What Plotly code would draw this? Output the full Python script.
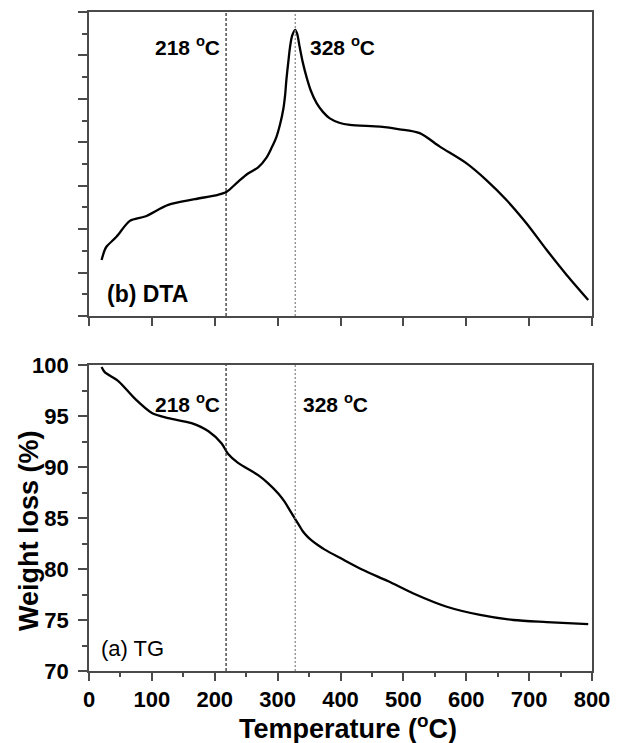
import plotly.graph_objects as go

# ---- data ----
dta_temp = [20, 25, 28, 44, 65, 89, 126, 168, 205, 219, 237, 253, 269, 282, 290, 298, 304, 309, 312, 314, 317, 319.6, 323, 328,
            331, 335, 340, 346, 353, 362, 372, 383, 398, 415, 463, 494, 526, 558, 600, 632, 664, 696, 728, 760, 794]
dta_signal = [1.29, 1.52, 1.60, 1.83, 2.19, 2.29, 2.56, 2.69, 2.79, 2.86, 3.09, 3.28, 3.42, 3.64, 3.86, 4.12, 4.42, 4.76, 5.10, 5.45, 5.85, 6.18, 6.45, 6.59,
              6.50, 6.20, 5.84, 5.50, 5.18, 4.90, 4.70, 4.55, 4.45, 4.40, 4.36, 4.30, 4.21, 3.90, 3.52, 3.13, 2.67, 2.13, 1.52, 0.94, 0.37]

tg_temp = [20, 25, 47, 73, 100, 126, 163, 190, 211, 221, 237, 269, 285, 301, 311, 319, 328, 334, 340, 347, 354, 365, 375, 402,
           436, 476, 516, 569, 622, 675, 728, 794]
tg_weight = [99.8, 99.3, 98.4, 96.7, 95.3, 94.8, 94.3, 93.5, 92.3, 91.3, 90.4, 89.2, 88.4, 87.4, 86.6, 85.8, 84.9, 84.3, 83.7, 83.2, 82.8, 82.3, 81.9, 81.0,
             79.9, 78.8, 77.6, 76.3, 75.5, 75.0, 74.8, 74.6]

marker_temps = [218, 328]
marker_labels = ["218 <sup>o</sup>C", "328 <sup>o</sup>C"]
x_ticks = [0, 100, 200, 300, 400, 500, 600, 700, 800]
tg_ticks = [70, 75, 80, 85, 90, 95, 100]

FONT = "Arial, Liberation Sans, sans-serif"
AXC = "#4a4a4a"

fig = go.Figure()
fig.add_trace(go.Scatter(x=tg_temp, y=tg_weight, mode="lines", line=dict(color="black", width=2.3, shape="spline", smoothing=0.8),
                         xaxis="x", yaxis="y", showlegend=False))
fig.add_trace(go.Scatter(x=dta_temp, y=dta_signal, mode="lines", line=dict(color="black", width=2.3, shape="spline", smoothing=0.8),
                         xaxis="x2", yaxis="y2", showlegend=False))

common_axis = dict(showgrid=False, zeroline=False, showline=True, linecolor=AXC, linewidth=1.6,
                   mirror=True, ticks="outside", tickcolor=AXC, tickwidth=1.6, automargin=False)

# page body has an 8px default margin: figure is 8px smaller, margins shifted accordingly
fig.update_layout(
    width=610, height=735,
    margin=dict(l=81, r=26, t=4, b=72, autoexpand=False),
    paper_bgcolor="white", plot_bgcolor="white",
    font=dict(family=FONT, color="black"),
    showlegend=False,
    xaxis=dict(domain=[0, 1], range=[0, 800], tickvals=x_ticks, ticklen=8,
               tickfont=dict(size=22, family=FONT, weight="bold"),
               minor=dict(ticks="outside", dtick=50, ticklen=4, tickcolor=AXC, tickwidth=1.6),
               anchor="y", **common_axis),
    yaxis=dict(domain=[0, 0.4643], range=[70, 100], tickvals=tg_ticks, ticklen=9,
               tickfont=dict(size=22, family=FONT, weight="bold"), ticklabelstandoff=5,
               minor=dict(ticks="outside", dtick=2.5, ticklen=5, tickcolor=AXC, tickwidth=1.6),
               anchor="x", **common_axis),
    xaxis2=dict(domain=[0, 1], range=[0, 800], tickvals=x_ticks, showticklabels=False, ticklen=8,
                anchor="y2", **common_axis),
    yaxis2=dict(domain=[0.5387, 1], range=[0, 7], dtick=1, tick0=0, showticklabels=False, ticklen=9,
                minor=dict(ticks="outside", dtick=0.5, ticklen=5, tickcolor=AXC, tickwidth=1.6),
                anchor="x2", **common_axis),
)

shapes = []
for t, c, d in zip(marker_temps, ["#222222", "#808080"], ["3px,2px", "2px,2px"]):
    for xr, yr in [("x", "y domain"), ("x2", "y2 domain")]:
        shapes.append(dict(type="line", xref=xr, yref=yr, x0=t, x1=t, y0=0, y1=1,
                           line=dict(color=c, width=1.2, dash=d)))
fig.update_layout(shapes=shapes)

lab_font = dict(size=21, family=FONT, weight="bold", color="black")
ann = [
    dict(x=marker_temps[0] - 6, y=6.22, xref="x2", yref="y2", text=marker_labels[0], xanchor="right", yanchor="middle", showarrow=False, font=lab_font),
    dict(x=marker_temps[1] + 20, y=6.22, xref="x2", yref="y2", text=marker_labels[1], xanchor="left", yanchor="middle", showarrow=False, font=lab_font),
    dict(x=marker_temps[0] - 6, y=96.3, xref="x", yref="y", text=marker_labels[0], xanchor="right", yanchor="middle", showarrow=False, font=lab_font),
    dict(x=marker_temps[1] + 9, y=96.3, xref="x", yref="y", text=marker_labels[1], xanchor="left", yanchor="middle", showarrow=False, font=lab_font),
    dict(x=16, y=72.2, xref="x", yref="y", text="(a) TG", xanchor="left", yanchor="middle", showarrow=False,
         font=dict(size=22, family=FONT, color="black")),
    dict(x=26, y=0.5, xref="x2", yref="y2", text="(b) DTA", xanchor="left", yanchor="middle", showarrow=False,
         font=dict(size=23, family=FONT, weight="bold", color="black")),
    dict(x=-0.119, y=0.2125, xref="paper", yref="paper", text="Weight loss (%)", textangle=-90,
         xanchor="center", yanchor="middle", showarrow=False, font=dict(size=27, family=FONT, weight="bold", color="black")),
    dict(x=0.515, y=-0.085, xref="paper", yref="paper", text="Temperature (<sup>o</sup>C)",
         xanchor="center", yanchor="middle", showarrow=False, font=dict(size=27, family=FONT, weight="bold", color="black")),
]
fig.update_layout(annotations=ann)

fig.write_html("out.html")
